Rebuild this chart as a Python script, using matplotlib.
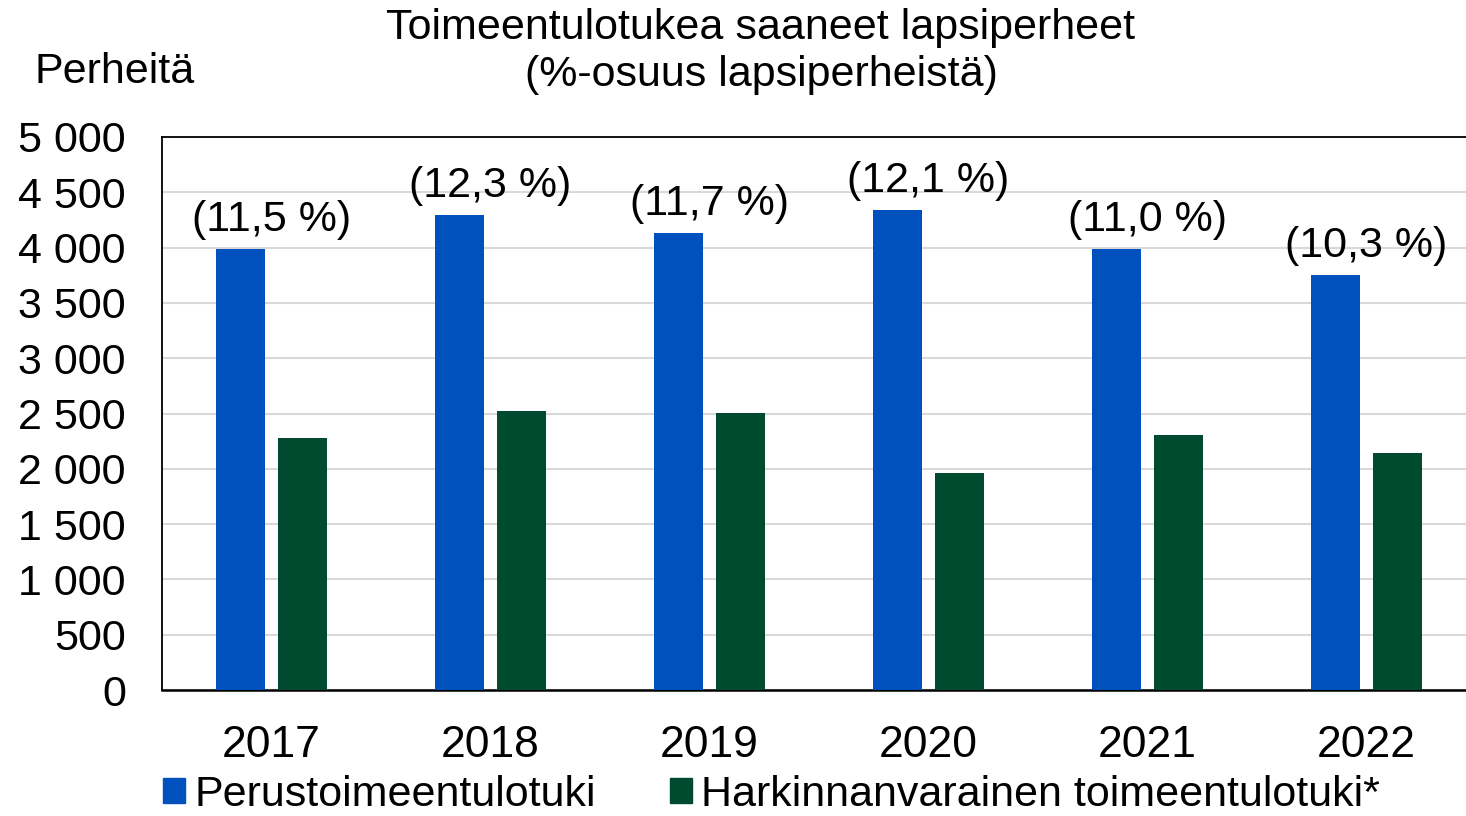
import matplotlib.pyplot as plt
import numpy as np
from matplotlib.patches import Patch

plt.rcParams['font.family'] = ['Liberation Sans', 'DejaVu Sans']

years = ['2017', '2018', '2019', '2020', '2021', '2022']
perus = [3990, 4295, 4135, 4340, 3990, 3755]
harkinnan = [2280, 2525, 2505, 1965, 2310, 2140]
osuus = ['(11,5 %)', '(12,3 %)', '(11,7 %)', '(12,1 %)', '(11,0 %)', '(10,3 %)']
series_names = ['Perustoimeentulotuki', 'Harkinnanvarainen toimeentulotuki*']

blue = '#0050BE'
green = '#004B30'

fig = plt.figure(figsize=(14.66, 8.16), dpi=100)
ax = fig.add_axes([162 / 1466, 1 - 690 / 816, 1314 / 1466, 553 / 816])

x = np.arange(len(years))
w = 0.224
off = 0.143
ax.bar(x - off, perus, w, color=blue, zorder=3)
ax.bar(x + off, harkinnan, w, color=green, zorder=3)

# percentage labels above the blue bars, centred on the group
for i, txt in enumerate(osuus):
    ax.annotate(txt, xy=(x[i], perus[i]), xytext=(0, 13), textcoords='offset points',
                ha='center', va='baseline', fontsize=31)

ax.set_xlim(-0.5, len(years) - 0.5)
ax.set_ylim(0, 5000)
yt = np.arange(0, 5001, 500)
ax.set_yticks(yt)
ax.set_yticklabels([f'{v:,}'.replace(',', ' ') for v in yt])
ax.set_xticks(x)
ax.set_xticklabels(years)
ax.tick_params(axis='y', length=0, pad=26, labelsize=31)
ax.tick_params(axis='x', length=0, pad=25, labelsize=32)
ax.grid(axis='y', color='#D9D9D9', linewidth=1.5, zorder=0)

for s in ['left', 'top']:
    ax.spines[s].set_linewidth(1.3)
ax.spines['bottom'].set_linewidth(1.8)
ax.spines['right'].set_visible(False)

fig.text(761 / 1466, 1 - 28 / 816, 'Toimeentulotukea saaneet lapsiperheet',
         ha='center', va='center', fontsize=31)
fig.text(761 / 1466, 1 - 75 / 816, '(%-osuus lapsiperheistä)',
         ha='center', va='center', fontsize=31)
fig.text(35 / 1466, 1 - 72 / 816, 'Perheitä', ha='left', va='center', fontsize=31)

handles = [Patch(color=blue), Patch(color=green)]
fig.legend(handles, series_names, loc='lower left', bbox_to_anchor=(163 / 1466, 0.001),
           ncol=2, frameon=False, fontsize=31, handlelength=0.52, handleheight=0.52,
           handletextpad=0.22, columnspacing=1.7, borderpad=0.0, borderaxespad=0)

fig.savefig('out.png', dpi=100)
